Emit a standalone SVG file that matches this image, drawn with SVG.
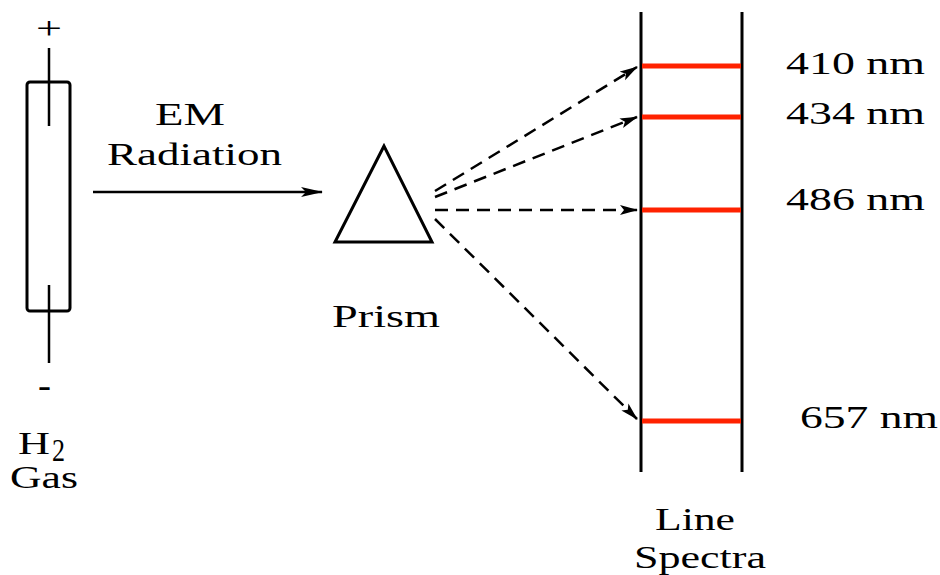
<svg xmlns="http://www.w3.org/2000/svg" width="940" height="575" viewBox="0 0 940 575" font-family="'Liberation Serif', 'Times New Roman', Times, serif">
<style>
text{font-family:'Liberation Serif','Times New Roman',Times,serif;font-size:31px;fill:#000}
.ln{stroke:#000;stroke-width:2.5;fill:none}
.dash{stroke:#000;stroke-width:2.5;fill:none;stroke-dasharray:13 8}
.red{stroke:#ff2200;stroke-width:5}
</style>
<defs>
<marker id="ah" markerWidth="22" markerHeight="12" refX="21" refY="6" orient="auto" markerUnits="userSpaceOnUse">
<path d="M0,1 L22,6 L0,11 L5,6 Z" fill="#000"/>
</marker>
<marker id="ahs" markerWidth="18" markerHeight="12" refX="17" refY="6" orient="auto" markerUnits="userSpaceOnUse">
<path d="M0,1 L18,6 L0,11 L4,6 Z" fill="#000"/>
</marker>
</defs>
<g id="tube">
<rect x="27" y="82" width="43" height="229" rx="3" fill="none" stroke="#000" stroke-width="3"/>
<line class="ln" x1="49" y1="48" x2="49" y2="126"/>
<line class="ln" x1="49" y1="285" x2="49" y2="363"/>
<text x="49" y="39" text-anchor="middle" font-size="40" textLength="26" lengthAdjust="spacingAndGlyphs">+</text>
<text x="38" y="396" font-size="34" font-weight="bold" textLength="13" lengthAdjust="spacingAndGlyphs">-</text>
<text x="18" y="454" textLength="32" lengthAdjust="spacingAndGlyphs">H</text>
<text x="52" y="461" font-size="20" textLength="13" lengthAdjust="spacingAndGlyphs">2</text>
<text x="10" y="488" textLength="68" lengthAdjust="spacingAndGlyphs">Gas</text>
</g>
<g id="prism">
<path d="M384,146 L335,242 L432,242 Z" fill="none" stroke="#000" stroke-width="3" stroke-linejoin="miter"/>
<text x="332" y="327" textLength="108" lengthAdjust="spacingAndGlyphs">Prism</text>
</g>
<g id="spectrum">
<line x1="641" y1="12" x2="641" y2="472" stroke="#000" stroke-width="3"/>
<line x1="742" y1="12" x2="742" y2="472" stroke="#000" stroke-width="3"/>
<line class="red" x1="642" y1="66" x2="741" y2="66"/>
<line class="red" x1="642" y1="117" x2="741" y2="117"/>
<line class="red" x1="642" y1="210" x2="741" y2="210" stroke-width="7"/>
<line class="red" x1="642" y1="421" x2="741" y2="421"/>
<text x="786" y="74" textLength="139" lengthAdjust="spacingAndGlyphs">410 nm</text>
<text x="786" y="124" textLength="139" lengthAdjust="spacingAndGlyphs">434 nm</text>
<text x="786" y="210" textLength="139" lengthAdjust="spacingAndGlyphs">486 nm</text>
<text x="800" y="428" textLength="138" lengthAdjust="spacingAndGlyphs">657 nm</text>
<text x="655" y="530" textLength="80" lengthAdjust="spacingAndGlyphs">Line</text>
<text x="634" y="568" textLength="132" lengthAdjust="spacingAndGlyphs">Spectra</text>
</g>
<g id="labels">
<text x="155" y="125" textLength="70" lengthAdjust="spacingAndGlyphs">EM</text>
<text x="107" y="165" textLength="175" lengthAdjust="spacingAndGlyphs">Radiation</text>
</g>
<g id="connectors">
<line class="ln" x1="93" y1="192" x2="322" y2="192" marker-end="url(#ah)"/>
<line class="dash" x1="435" y1="191" x2="637" y2="67" marker-end="url(#ahs)"/>
<line class="dash" x1="435" y1="197" x2="637" y2="117" marker-end="url(#ahs)"/>
<line class="dash" x1="435" y1="210" x2="637" y2="210" marker-end="url(#ahs)"/>
<line class="dash" x1="435" y1="219" x2="637" y2="419" marker-end="url(#ahs)"/>
</g>
</svg>
